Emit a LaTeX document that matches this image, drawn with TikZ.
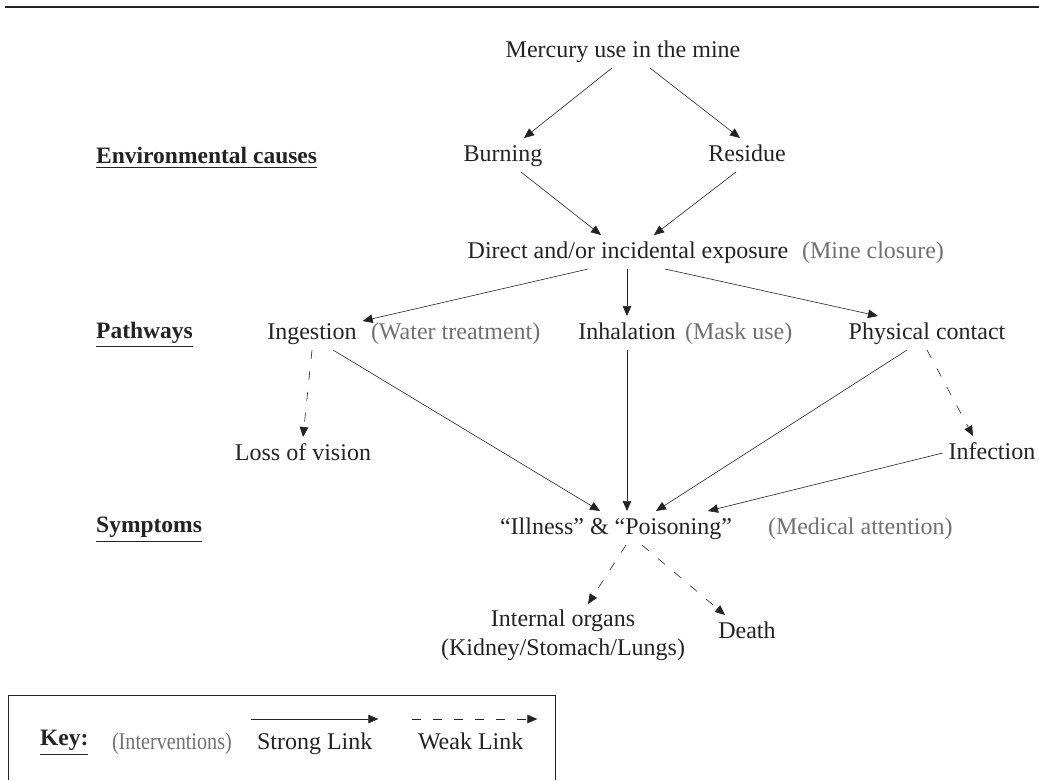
\documentclass[tikz,border=0pt]{standalone}
\usepackage{amsmath}
\usepackage{fontspec}
\setmainfont{Liberation Serif}
\usepackage{tikz}
\usetikzlibrary{arrows.meta}

\definecolor{intgray}{RGB}{112,112,112}
\definecolor{linkgray}{RGB}{35,35,35}

\begin{document}
\begin{tikzpicture}[x=1pt, y=-1pt,
    lbl/.style={inner sep=2pt, outer sep=4pt, text height=17pt, text depth=5pt,
                text=linkgray, font=\fontsize{24}{28}\selectfont},
    hdr/.style={anchor=west, inner sep=0pt, text=linkgray, font=\fontsize{23.5}{28}\selectfont\bfseries},
    intv/.style={lbl, anchor=west, text=intgray},
    strong/.style={draw=linkgray, line width=0.6pt, -{Triangle[length=10pt,width=8.5pt]}},
    weak/.style={strong, dash pattern=on 9pt off 12pt}]
                    \useasboundingbox (0,0) rectangle (1039,780);
                    \draw[line width=1.6pt, linkgray] (5,7) -- (1039,7);
                    % Nodes
                    \node[lbl] (mercury) at (623,51) {Mercury use in the mine};
                    \node[lbl] (burning) at (503,155) {Burning};
                    \node[lbl] (residue) at (747,155) {Residue};
                    \node[lbl] (direct) at (628,252) {Direct and/or incidental exposure};
                    \node[intv] (mineclose) at (796,252) {(Mine closure)};
                    \node[lbl] (ingestion) at (312,333) {Ingestion};
                    \node[intv] (water) at (365,333) {(Water treatment)};
                    \node[lbl] (inhalation) at (627,333) {Inhalation};
                    \node[intv] (mask) at (679,333) {(Mask use)};
                    \node[lbl] (physical) at (927,333) {Physical contact};
                    \node[lbl] (loss) at (303,454) {Loss of vision};
                    \node[lbl] (infection) at (992,453) {Infection};
                    \node[lbl] (illness) at (616,528) {“Illness” \& “Poisoning”};
                    \node[intv] (medical) at (762,528) {(Medical attention)};
                    \node[inner sep=2pt, outer sep=4pt, anchor=north, align=center, text=linkgray,
                          font=\fontsize{24}{29}\selectfont] (organs) at (563,604)
                          {Internal organs\\(Kidney/Stomach/Lungs)};
                    \node[lbl] (death) at (747,632) {Death};
                    % Levels
                    \node[hdr] (envlbl) at (96,158) {\underline{Environmental causes}};
                    \node[hdr] (pathlbl) at (96,335) {\underline{Pathways}};
                    \node[hdr] (symplbl) at (96,530) {\underline{Symptoms}};
                    % Key
                    \draw[linkgray, line width=0.8pt] (8,780) -- (8,695) -- (555,695) -- (555,780);
                    \node[hdr] (keylbl) at (40,743) {\underline{Key:}};
                    \node[intv] (intvkey) at (106,743) {\scalebox{0.84}[1]{(Interventions)}};
                    \node[lbl, anchor=west] (strongkey) at (251,743) {Strong Link};
                    \node[lbl, anchor=west] (weakkey) at (412,743) {Weak Link};
                    \draw[strong] ([yshift=7pt]strongkey.north west) -- ([yshift=7pt]strongkey.north east);
                    \draw[weak] ([yshift=7pt]weakkey.north west) -- ([xshift=8pt,yshift=7pt]weakkey.north east);
                    % Edges
                    \draw[strong] ([xshift=-11pt]mercury.south) -- ([xshift=21pt]burning.north);
                    \draw[strong] ([xshift=27pt]mercury.south) -- ([xshift=-7pt]residue.north);
                    \draw[strong] ([xshift=18pt]burning.south) -- ([xshift=-27pt]direct.north);
                    \draw[strong] ([xshift=-11pt]residue.south) -- ([xshift=26pt]direct.north);
                    \draw[strong] ([xshift=-40pt]direct.south) -- ([yshift=-5pt]ingestion.north east);
                    \draw[strong] (direct.south -| inhalation) -- (inhalation.north);
                    \draw[strong] ([xshift=37pt]direct.south) -- ([xshift=-49pt]physical.north);
                    \draw[weak] (ingestion.south) -- (loss.north);
                    \draw[strong] ([xshift=21pt]ingestion.south) -- ([xshift=-16pt]illness.north);
                    \draw[strong] (inhalation.south) -- (inhalation.south |- illness.north);
                    \draw[strong] ([xshift=-20pt]physical.south) -- ([xshift=40pt]illness.north);
                    \draw[weak] (physical.south) -- ([xshift=-19pt]infection.north);
                    \draw[strong] (infection.west) -- ([xshift=-30pt]illness.north east);
                    \draw[weak] ([xshift=10pt]illness.south) -- ([xshift=25pt]organs.north);
                    \draw[weak] ([xshift=26pt]illness.south) -- ([xshift=-22pt]death.north);
                \end{tikzpicture}
\end{document}
